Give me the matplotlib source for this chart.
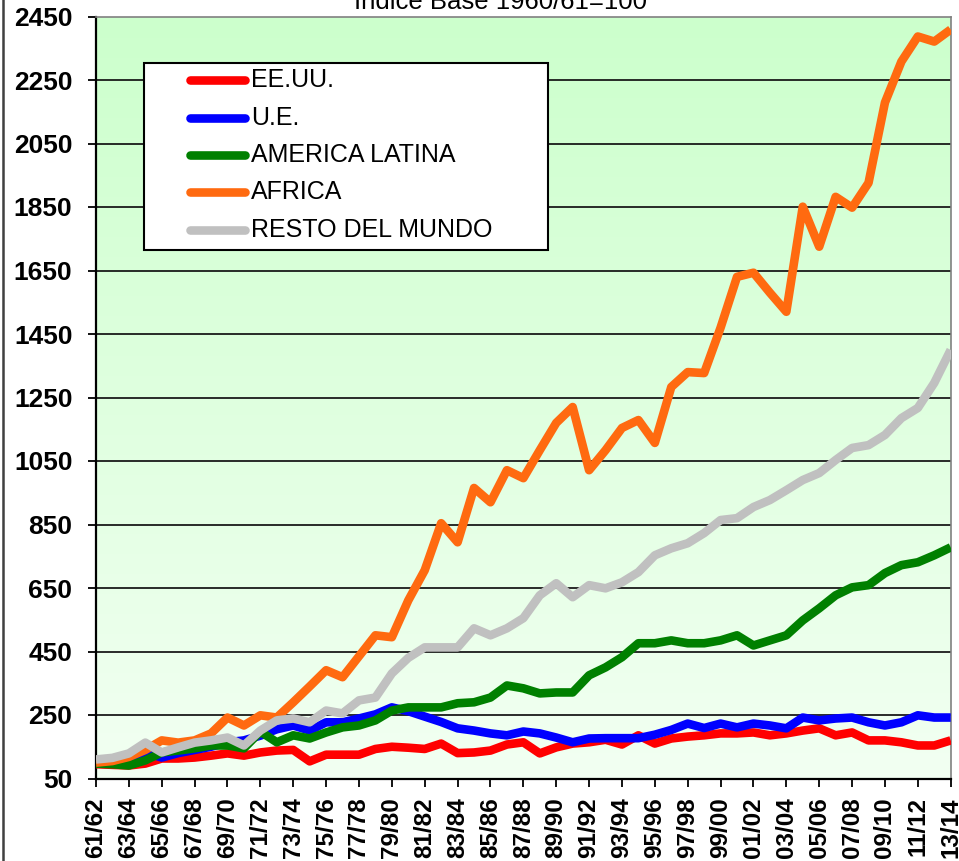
import numpy as np
import matplotlib
matplotlib.use("Agg")
import matplotlib.pyplot as plt
from matplotlib.patches import Rectangle
from matplotlib.lines import Line2D

# ---------------- data ----------------
start_years = list(range(1961, 2014))
seasons = [f"{y % 100:02d}/{(y + 1) % 100:02d}" for y in start_years]

eeuu = [95, 93, 91, 97, 113, 113, 116, 122, 129, 122, 132, 138, 140, 104, 125, 125, 125, 143,
        150, 147, 143, 160, 130, 132, 138, 157, 164, 129, 148, 160, 164, 172, 157, 186, 160,
        176, 182, 186, 192, 192, 195, 186, 192, 201, 208, 186, 195, 170, 170, 164, 154, 154, 170]
ue = [100, 98, 105, 132, 116, 130, 140, 150, 164, 170, 185, 205, 217, 201, 227, 227, 239, 252,
      274, 262, 245, 228, 208, 201, 192, 186, 198, 192, 179, 164, 176, 177, 177, 177, 188,
      203, 223, 209, 223, 211, 223, 217, 208, 242, 233, 239, 242, 227, 217, 227, 249, 242, 242]
america_latina = [97, 95, 91, 107, 132, 138, 145, 154, 154, 145, 198, 164, 186, 176, 195, 211,
                  217, 233, 264, 274, 274, 274, 287, 290, 305, 343, 334, 318, 321, 321, 375,
                  400, 432, 476, 476, 485, 476, 476, 485, 501, 469, 485, 501, 548, 586, 627,
                  652, 659, 697, 722, 731, 753, 778]
africa = [100, 105, 118, 140, 170, 163, 170, 192, 242, 217, 249, 242, 290, 340, 391, 369, 435,
          501, 495, 611, 706, 854, 794, 965, 920, 1021, 996, 1084, 1170, 1220, 1021, 1084,
          1154, 1179, 1107, 1283, 1330, 1327, 1470, 1630, 1643, 1580, 1520, 1851, 1725, 1882,
          1848, 1926, 2179, 2308, 2387, 2371, 2409]
resto_mundo = [110, 115, 129, 163, 132, 148, 163, 170, 179, 154, 201, 233, 239, 227, 264, 255,
               296, 305, 381, 430, 463, 463, 463, 523, 501, 523, 555, 627, 665, 621, 659, 649,
               668, 700, 753, 775, 791, 823, 864, 870, 905, 927, 958, 990, 1012, 1053, 1091,
               1100, 1132, 1185, 1217, 1296, 1400]

series_names = ["EE.UU.", "U.E.", "AMERICA LATINA", "AFRICA", "RESTO DEL MUNDO"]
series_values = [eeuu, ue, america_latina, africa, resto_mundo]
series_colors = ["#ff0000", "#0000ff", "#008000", "#ff6a10", "#c0c0c0"]

y_ticks = list(range(50, 2451, 200))
title = "Indice Base 1960/61=100"

# ---------------- figure ----------------
W, H = 959, 861
fig = plt.figure(figsize=(W / 100, H / 100), dpi=100)
fig.patch.set_facecolor("white")

ax_left, ax_right, ax_top, ax_bottom = 96, 950.7, 16.5, 778.5
ax = fig.add_axes([ax_left / W, 1 - ax_bottom / H,
                   (ax_right - ax_left) / W, (ax_bottom - ax_top) / H])

x = np.arange(len(seasons))
ax.set_xlim(0, len(seasons) - 1)

# gradient background (light green at top, almost white at bottom)
grad = np.linspace(0, 1, 256)[:, None]
top_c = np.array([0.80, 1.0, 0.80])
bot_c = np.array([0.95, 1.0, 0.95])
img = top_c[None, None, :] * (1 - grad[:, :, None]) + bot_c[None, None, :] * grad[:, :, None]
ax.imshow(img, extent=[0, len(seasons) - 1, 50, 2450], aspect="auto", zorder=0,
          origin="upper", interpolation="bilinear")
ax.set_ylim(50, 2450)

for yv in y_ticks[1:-1]:
    ax.axhline(yv, color="#1a1a1a", lw=1.3, zorder=1)

for vals, col in zip(series_values, series_colors):
    ax.plot(x, vals, color=col, lw=6.2, solid_joinstyle="round", solid_capstyle="butt",
            zorder=3, clip_on=True)

ax.set_yticks(y_ticks)
ax.set_yticklabels([str(v) for v in y_ticks], fontfamily="Liberation Sans",
                   fontweight="bold", fontsize=19)
ax.set_xticks(x[::2])
ax.set_xticklabels(seasons[::2], rotation=90, fontfamily="Liberation Sans",
                   fontweight="bold", fontsize=17.5)
ax.tick_params(axis="y", direction="out", length=6, width=1.3, pad=11, colors="black")
ax.tick_params(axis="x", direction="out", length=5.5, width=1.3, pad=8, colors="black")

ax.spines["left"].set_color("black")
ax.spines["left"].set_linewidth(1.6)
ax.spines["bottom"].set_color("black")
ax.spines["bottom"].set_linewidth(1.6)
for s in ("top", "right"):
    ax.spines[s].set_color("#808080")
    ax.spines[s].set_linewidth(1.2)

# title (partially cut at top, as in the reference)
fig.text(501 / W, 1 - 9 / H, title, ha="center", va="baseline",
         fontfamily="Liberation Sans", fontsize=18.5, color="black")

# outer border on left edge
fig.add_artist(Line2D([2.5 / W, 2.5 / W], [0, 1], transform=fig.transFigure,
                      color="#404040", lw=1.8))

# manual legend box
def fx(px):
    return px / W


def fy(py):
    return 1 - py / H


box_l, box_t, box_r, box_b = 144, 63, 548, 250
fig.add_artist(Rectangle((fx(box_l), fy(box_b)), fx(box_r) - fx(box_l), fy(box_t) - fy(box_b),
                         transform=fig.transFigure, facecolor="white", edgecolor="black",
                         lw=1.5, zorder=5))
row_y = [80, 118, 155, 192, 230]
for name, col, ry in zip(series_names, series_colors, row_y):
    fig.add_artist(Line2D([fx(190), fx(245)], [fy(ry), fy(ry)], transform=fig.transFigure,
                          color=col, lw=6.2, solid_capstyle="round", zorder=6))
    fig.text(fx(251), fy(ry), name, ha="left", va="center", fontfamily="Liberation Sans",
             fontsize=18, color="black", zorder=7)

fig.savefig("out.png", dpi=100)
